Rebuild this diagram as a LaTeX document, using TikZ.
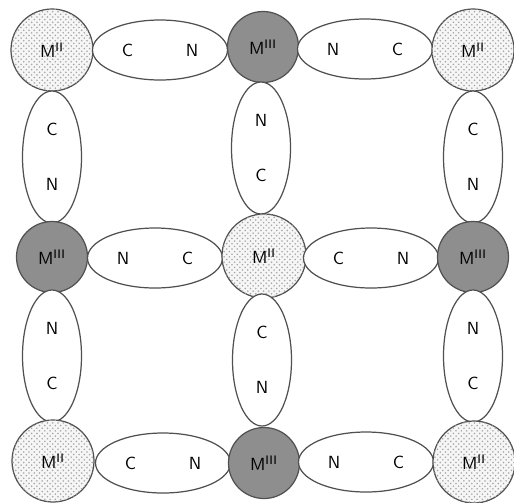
\documentclass[tikz,border=0pt]{standalone}
\usepackage{tikz}
\usetikzlibrary{positioning, shapes.geometric, patterns}
\definecolor{ironLight}{HTML}{F6F6F6}
\definecolor{ironDark}{HTML}{8E8E8E}
\definecolor{rimGray}{HTML}{505050}

\begin{document}
\begin{tikzpicture}[
  lightion/.style={circle, draw=rimGray, line width=0.7pt, fill=ironLight,
                   postaction={pattern=crosshatch dots, pattern color=gray!70},
                   minimum size=1.64cm, inner sep=0pt},
  darkion/.style={circle, draw=rimGray, line width=0.7pt, fill=ironDark,
                  minimum size=1.42cm, inner sep=0pt},
  bridgeH/.style={ellipse, draw=rimGray, line width=0.7pt, fill=white,
                  minimum width=2.7cm, minimum height=1.2cm, inner sep=0pt},
  bridgeV/.style={ellipse, draw=rimGray, line width=0.7pt, fill=white,
                  minimum width=1.18cm, minimum height=2.64cm, inner sep=0pt,
                  align=center},
  every node/.style={font=\sffamily}
]
  \useasboundingbox (0,0) rectangle (10.28,-10.04);

  % top row
  \node[lightion] (mTL) at (1.04,-1.0) {M\textsuperscript{II}};
  \node[bridgeH]  (cnT1) at (3.2,-1.0) {C\hspace{30pt}N};
  \node[darkion]  (mTM) at (5.26,-0.94) {M\textsuperscript{III}};
  \node[bridgeH]  (cnT2) at (7.3,-0.98) {N\hspace{30pt}C};
  \node[lightion] (mTR) at (9.46,-1.0) {M\textsuperscript{II}};

  \node[bridgeV] (cnL1) at (1.04,-3.14) {C\\[19pt]N};
  \node[bridgeV] (cnM1) at (5.22,-2.96) {N\\[19pt]C};
  \node[bridgeV] (cnR1) at (9.46,-3.14) {C\\[19pt]N};

  % middle row
  \node[darkion]  (mML) at (1.04,-5.14) {M\textsuperscript{III}};
  \node[bridgeH]  (cnM2) at (3.1,-5.16) {N\hspace{30pt}C};
  \node[lightion, minimum size=1.68cm] (mMM) at (5.28,-5.12) {M\textsuperscript{II}};
  \node[bridgeH]  (cnM3) at (7.42,-5.16) {C\hspace{30pt}N};
  \node[darkion]  (mMR) at (9.46,-5.14) {M\textsuperscript{III}};

  \node[bridgeV] (cnL2) at (1.04,-7.12) {N\\[19pt]C};
  \node[bridgeV] (cnM4) at (5.24,-7.2) {C\\[19pt]N};
  \node[bridgeV] (cnR2) at (9.46,-7.12) {N\\[19pt]C};

  % bottom row
  \node[lightion] (mBL) at (1.06,-9.22) {M\textsuperscript{II}};
  \node[bridgeH]  (cnB1) at (3.26,-9.26) {C\hspace{30pt}N};
  \node[darkion]  (mBM) at (5.28,-9.26) {M\textsuperscript{III}};
  \node[bridgeH]  (cnB2) at (7.32,-9.24) {N\hspace{30pt}C};
  \node[lightion] (mBR) at (9.48,-9.24) {M\textsuperscript{II}};
\end{tikzpicture}
\end{document}
